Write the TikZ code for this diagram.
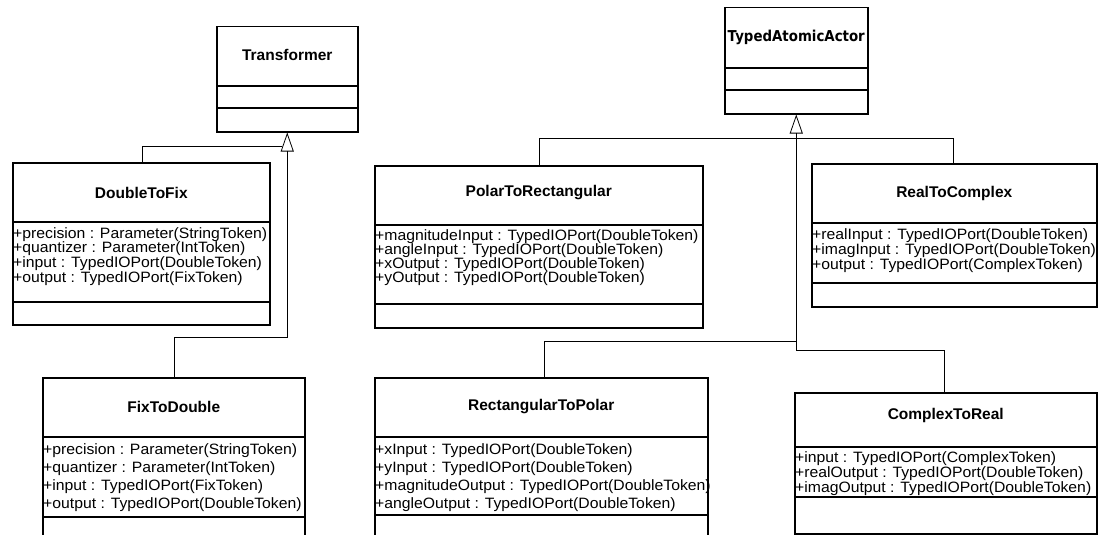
\documentclass[tikz,border=0pt]{standalone}
\usepackage{fontspec}
\usetikzlibrary{arrows.meta}
\newfontfamily\attrfam[FakeStretch=1.05]{Liberation Sans}
\newfontfamily\ttlfam{Liberation Sans}
\newfontfamily\taafam[FakeStretch=0.89]{DejaVu Sans}
\tikzset{
  cls/.style={draw, line width=1.5pt, inner sep=0pt, anchor=north west},
  divl/.style={line width=1.1pt},
  ttl/.style={font=\ttlfam\bfseries\fontsize{15.5}{18}\selectfont, inner sep=0pt},
  attr/.style={font=\attrfam\fontsize{15}{16}\selectfont, inner sep=0pt, anchor=base west},
  conn/.style={line width=0.8pt},
  gen/.style={conn, -{Triangle[open, length=19pt, width=13pt, line width=0.8pt]}}
}
\begin{document}
\begin{tikzpicture}[x=1pt,y=-1pt]
\useasboundingbox (0,0) rectangle (1098,535);
\clip (0,0) rectangle (1098,535);

% ---------- Transformer ----------
\node[cls, minimum width=141, minimum height=105] (tr) at (216,26) {};
\draw[divl] (tr.west |- 0,86) -- (tr.east |- 0,86);
\draw[divl] (tr.west |- 0,108) -- (tr.east |- 0,108);
\node[ttl] (trT) at (tr.north |- 0,55) {Transformer};

% ---------- TypedAtomicActor ----------
\node[cls, minimum width=143, minimum height=106] (taa) at (724,7) {};
\draw[divl] (taa.west |- 0,68) -- (taa.east |- 0,68);
\draw[divl] (taa.west |- 0,90) -- (taa.east |- 0,90);
\node[font=\taafam\bfseries\fontsize{15}{17}\selectfont, inner sep=0pt] (taaT) at (taa.north |- 0,37) {TypedAtomicActor};

% ---------- DoubleToFix ----------
\node[cls, minimum width=257, minimum height=162] (dtf) at (12,162) {};
\draw[divl] (dtf.west |- 0,222) -- (dtf.east |- 0,222);
\draw[divl] (dtf.west |- 0,302) -- (dtf.east |- 0,302);
\node[ttl] (dtfT) at (dtf.north |- 0,193) {DoubleToFix};
\node[attr] (dtf1) at (13,238) {+precision : Parameter(StringToken)};
\node[attr] (dtf2) at (13,252) {+quantizer : Parameter(IntToken)};
\node[attr] (dtf3) at (13,267) {+input : TypedIOPort(DoubleToken)};
\node[attr] (dtf4) at (13,282) {+output : TypedIOPort(FixToken)};

% ---------- FixToDouble ----------
\node[cls, minimum width=262, minimum height=170] (ftd) at (42,377) {};
\draw[divl] (ftd.west |- 0,437) -- (ftd.east |- 0,437);
\draw[divl] (ftd.west |- 0,517) -- (ftd.east |- 0,517);
\node[ttl] (ftdT) at (ftd.north |- 0,407) {FixToDouble};
\node[attr] (ftd1) at (43,454) {+precision : Parameter(StringToken)};
\node[attr] (ftd2) at (43,472) {+quantizer : Parameter(IntToken)};
\node[attr] (ftd3) at (43,490) {+input : TypedIOPort(FixToken)};
\node[attr] (ftd4) at (43,508) {+output : TypedIOPort(DoubleToken)};

% ---------- PolarToRectangular ----------
\node[cls, minimum width=328, minimum height=162] (ptr) at (374,165) {};
\draw[divl] (ptr.west |- 0,225) -- (ptr.east |- 0,225);
\draw[divl] (ptr.west |- 0,304) -- (ptr.east |- 0,304);
\node[ttl] (ptrT) at (ptr.north |- 0,193) {PolarToRectangular};
\node[attr] (ptr1) at (375,240) {+magnitudeInput : TypedIOPort(DoubleToken)};
\node[attr] (ptr2) at (375,254) {+angleInput : TypedIOPort(DoubleToken)};
\node[attr] (ptr3) at (375,268) {+xOutput : TypedIOPort(DoubleToken)};
\node[attr] (ptr4) at (375,282) {+yOutput : TypedIOPort(DoubleToken)};

% ---------- RectangularToPolar ----------
\node[cls, minimum width=333, minimum height=170] (rtp) at (374,377) {};
\draw[divl] (rtp.west |- 0,437) -- (rtp.east |- 0,437);
\draw[divl] (rtp.west |- 0,515) -- (rtp.east |- 0,515);
\node[ttl] (rtpT) at (rtp.north |- 0,407) {RectangularToPolar};
\node[attr] (rtp1) at (375,454) {+xInput : TypedIOPort(DoubleToken)};
\node[attr] (rtp2) at (375,472) {+yInput : TypedIOPort(DoubleToken)};
\node[attr] (rtp3) at (375,490) {+magnitudeOutput : TypedIOPort(DoubleToken)};
\node[attr] (rtp4) at (375,508) {+angleOutput : TypedIOPort(DoubleToken)};

% ---------- RealToComplex ----------
\node[cls, minimum width=285, minimum height=143] (rtc) at (811,163) {};
\draw[divl] (rtc.west |- 0,223) -- (rtc.east |- 0,223);
\draw[divl] (rtc.west |- 0,283) -- (rtc.east |- 0,283);
\node[ttl] (rtcT) at (rtc.north |- 0,193) {RealToComplex};
\node[attr] (rtc1) at (812,239) {+realInput : TypedIOPort(DoubleToken)};
\node[attr] (rtc2) at (812,254) {+imagInput : TypedIOPort(DoubleToken)};
\node[attr] (rtc3) at (812,269) {+output : TypedIOPort(ComplexToken)};

% ---------- ComplexToReal ----------
\node[cls, minimum width=302, minimum height=141] (ctr) at (794,392) {};
\draw[divl] (ctr.west |- 0,447) -- (ctr.east |- 0,447);
\draw[divl] (ctr.west |- 0,497) -- (ctr.east |- 0,497);
\node[ttl] (ctrT) at (ctr.north |- 0,415) {ComplexToReal};
\node[attr] (ctr1) at (795,462) {+input : TypedIOPort(ComplexToken)};
\node[attr] (ctr2) at (795,477) {+realOutput : TypedIOPort(DoubleToken)};
\node[attr] (ctr3) at (795,492) {+imagOutput : TypedIOPort(DoubleToken)};

% ---------- Generalisation connectors ----------
\draw[gen] (ftd.north -| 174,0) |- (tr.south |- 0,337) -- (tr.south);
\draw[conn] (dtf.north -| 142,0) |- (282,146);

\draw[gen] (ctr.north -| 944,0) |- (taa.south |- 0,350) -- (taa.south);
\draw[conn] (rtp.north -| 544,0) |- (taa.south |- 0,341);
\draw[conn] (ptr.north -| 539,0) |- (953,138) -- (rtc.north -| 953,0);
\end{tikzpicture}
\end{document}
